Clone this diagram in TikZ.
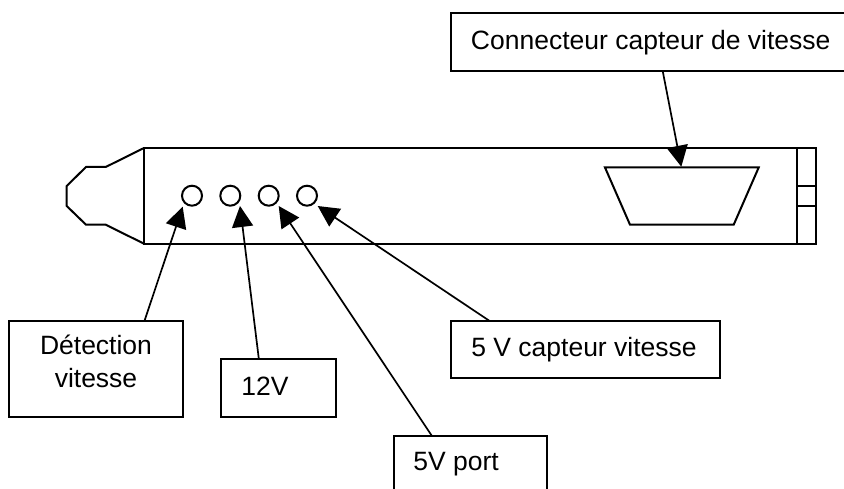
\documentclass[tikz,border=0pt]{standalone}
\usepackage{fontspec}
\setmainfont{Liberation Sans}
\usetikzlibrary{arrows.meta,calc}
\tikzset{
  ln/.style={line width=2pt,black},
  outline/.style={ln,fill=none,line join=miter},
  lbl/.style={ln,draw,rectangle,anchor=north west,inner sep=0pt,outer sep=0pt,font=\fontsize{26.5}{32}\selectfont},
  hole/.style={ln,draw,circle,inner sep=0pt,outer sep=0pt,minimum size=20pt},
  arr/.style={line width=1.7pt,black,-{Triangle[length=21pt,width=21pt]}}
}
\newcommand{\shifted}[3]{\raisebox{#2}[0pt][0pt]{\makebox[0pt]{\hspace*{#1}#3}}}
\begin{document}
\begin{tikzpicture}[x=1pt,y=-1pt]
\useasboundingbox (0,0) rectangle (844,489);
\clip (0,0) rectangle (844,489);
% card
\draw[outline] (144,148) rectangle (816,243.7);
\draw[outline] (144,148) -- (105.7,167) -- (86,167) -- (66.7,186) -- (66.7,206) -- (86,224.7) -- (105.7,224.7) -- (144,243.7);
\draw[ln] (797,148) -- (797,243.7);
\draw[ln] (797,186.5) -- (816,186.5);
\draw[ln] (797,205.7) -- (816,205.7);
% connector
\draw[outline] (605,167.5) -- (758.7,167.5) -- (733.7,224.7) -- (630,224.7) -- cycle;
\coordinate (tconn) at (681.3,166.7);
% holes
\node[hole] (c1) at (192,195.7) {};
\node[hole] (c2) at (230.3,195.7) {};
\node[hole] (c3) at (268.7,195.7) {};
\node[hole] (c4) at (307,195.7) {};
\coordinate (t1) at ($(c1)+(-9.3,11)$);
\coordinate (t2) at ($(c2)+(9.7,10.3)$);
\coordinate (t3) at ($(c3)+(10,10.3)$);
\coordinate (t4) at ($(c4)+(10.7,10.3)$);
% labels
\node[lbl,minimum width=400pt,minimum height=57.7pt] (bconn) at (450.7,13.3) {\shifted{0pt}{-7.3pt}{Connecteur capteur de vitesse}};
\node[lbl,minimum width=173.4pt,minimum height=96pt] (bdet) at (9.3,320.7) {\shifted{0pt}{-18.3pt}{\begin{tabular}[b]{@{}c@{}}Détection\\vitesse\end{tabular}}};
\node[lbl,minimum width=115.7pt,minimum height=57.4pt] (b12) at (220.7,359.3) {\shifted{-27pt}{-7pt}{12V}};
\node[lbl,minimum width=153.4pt,minimum height=64pt] (bport) at (393.6,436) {\shifted{-28.6pt}{-2.7pt}{5V port}};
\node[lbl,minimum width=269pt,minimum height=57.6pt] (bcap) at (451,320.7) {\shifted{-3pt}{-6.5pt}{5 V capteur vitesse}};
% arrows
\coordinate (sconn) at ($(bconn.south west)!0.53!(bconn.south east)$);
\coordinate (sdet) at ($(bdet.north west)!0.78!(bdet.north east)$);
\coordinate (s12) at ($(b12.north west)!0.33!(b12.north east)$);
\coordinate (sport) at ($(bport.north west)!0.25!(bport.north east)$);
\coordinate (scap) at ($(bcap.north west)!0.142!(bcap.north east)$);
\draw[arr] (sconn) -- (tconn);
\draw[arr] (sdet) -- (t1);
\draw[arr] (s12) -- (t2);
\draw[arr] (sport) -- (t3);
\draw[arr] (scap) -- (t4);
\end{tikzpicture}
\end{document}
